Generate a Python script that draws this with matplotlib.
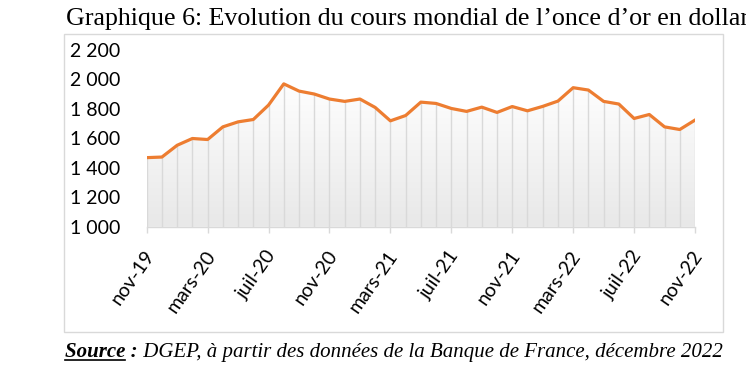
import matplotlib
matplotlib.use('Agg')
import matplotlib.pyplot as plt
import numpy as np
from matplotlib.colors import LinearSegmentedColormap
from matplotlib.patches import Rectangle
from matplotlib.lines import Line2D
from matplotlib.transforms import ScaledTranslation

W, H = 746, 383

# monthly gold price, USD per ounce
months = ["nov-19", "déc-19", "janv-20", "févr-20", "mars-20", "avr-20", "mai-20",
          "juin-20", "juil-20", "août-20", "sept-20", "oct-20", "nov-20", "déc-20",
          "janv-21", "févr-21", "mars-21", "avr-21", "mai-21", "juin-21", "juil-21",
          "août-21", "sept-21", "oct-21", "nov-21", "déc-21", "janv-22", "févr-22",
          "mars-22", "avr-22", "mai-22", "juin-22", "juil-22", "août-22", "sept-22",
          "oct-22", "nov-22"]
prices = [1469, 1473, 1553, 1599, 1592, 1678, 1712, 1728, 1826, 1970, 1921, 1901,
          1867, 1851, 1867, 1810, 1719, 1755, 1846, 1837, 1803, 1783, 1812, 1776,
          1816, 1787, 1817, 1853, 1944, 1928, 1851, 1833, 1735, 1762, 1678, 1660,
          1724]
y_ticks = [1000, 1200, 1400, 1600, 1800, 2000, 2200]

title = "Graphique 6: Evolution du cours mondial de l\u2019once d\u2019or en dollar"
source_head = "Source :"
source_rest = " DGEP, à partir des données de la Banque de France, décembre 2022"

ORANGE = "#ED7D31"
GRID = "#d9d9d9"


def fx(px):
    return px / W


def fy(py):
    return 1 - py / H


fig = plt.figure(figsize=(W / 100, H / 100), dpi=100)
fig.patch.set_facecolor("white")

# outer chart frame
fig.patches.append(Rectangle((fx(64), fy(332)), fx(723) - fx(64), fy(34) - fy(332),
                             transform=fig.transFigure, fill=False,
                             edgecolor=GRID, lw=1.0))

left, right, top, bottom = 146.7, 695, 50, 226.7
ax = fig.add_axes([fx(left), fy(bottom), fx(right) - fx(left), fy(top) - fy(bottom)])

x = np.arange(len(prices))
vals = np.array(prices)

# gradient fill under the curve
poly = ax.fill_between(x, vals, 1000, facecolor="none", edgecolor="none")
cmap = LinearSegmentedColormap.from_list("g", ["#e8e8e8", "#ffffff"])
grad = np.linspace(0, 1, 256).reshape(-1, 1)
im = ax.imshow(grad, cmap=cmap, origin="lower", aspect="auto",
               extent=[0, len(prices) - 1, 1000, 2000], zorder=1)
im.set_clip_path(poly.get_paths()[0], transform=ax.transData)

ax.vlines(x, 1000, vals, color=GRID, lw=1.0, zorder=2)
ax.plot(x, vals, color=ORANGE, lw=2.3, zorder=3, solid_joinstyle="round")

ax.set_xlim(0, len(prices) - 1)
ax.set_ylim(1000, 2200)

for s in ["left", "right", "top"]:
    ax.spines[s].set_visible(False)
ax.spines["bottom"].set_color(GRID)
ax.spines["bottom"].set_linewidth(1.0)
ax.spines["bottom"].set_zorder(4)

ax.set_yticks(y_ticks)
ax.set_yticklabels([f"{v:,}".replace(",", " ") for v in y_ticks],
                   family="Lato", fontsize=14, color="black")
ax.tick_params(axis="y", length=0, pad=19)

xt = x[::4]
ax.set_xticks(xt)
ax.set_xticklabels([months[i] for i in xt], family="Lato", fontsize=14,
                   rotation=55, ha="right", va="center", rotation_mode="anchor")
ax.tick_params(axis="x", length=4.3, color=GRID, width=1.0, pad=14)
shift = ScaledTranslation(4 / 100, 0, fig.dpi_scale_trans)
for lab in ax.get_xticklabels():
    lab.set_transform(lab.get_transform() + shift)

# title and source line
t = fig.text(fx(66), fy(25), title, family="Liberation Serif", fontsize=17,
             va="baseline", ha="left")
s1 = fig.text(fx(65), fy(357), source_head, family="Liberation Serif", fontsize=15,
              style="italic", weight="bold", va="baseline", ha="left")
s2 = fig.text(fx(65), fy(357), source_rest, family="Liberation Serif", fontsize=15,
              style="italic", va="baseline", ha="left")

fig.canvas.draw()
r = fig.canvas.get_renderer()
bt = t.get_window_extent(r)
t.set_fontsize(17 * 685 / bt.width)
w_total = s1.get_window_extent(r).width + s2.get_window_extent(r).width
k = 657 / w_total
s1.set_fontsize(15 * k)
s2.set_fontsize(15 * k)
fig.canvas.draw()
b1 = s1.get_window_extent(r)
s2.set_x(fx(65 + b1.width))

# underline under "Source"
tmp = fig.text(0, 0, "Source", family="Liberation Serif", fontsize=15 * k,
               style="italic", weight="bold")
fig.canvas.draw()
uw = tmp.get_window_extent(r).width
tmp.remove()
fig.add_artist(Line2D([fx(65), fx(65 + uw)], [fy(360), fy(360)],
                      transform=fig.transFigure, color="black", lw=1.2))

fig.savefig("out.png", dpi=100)
